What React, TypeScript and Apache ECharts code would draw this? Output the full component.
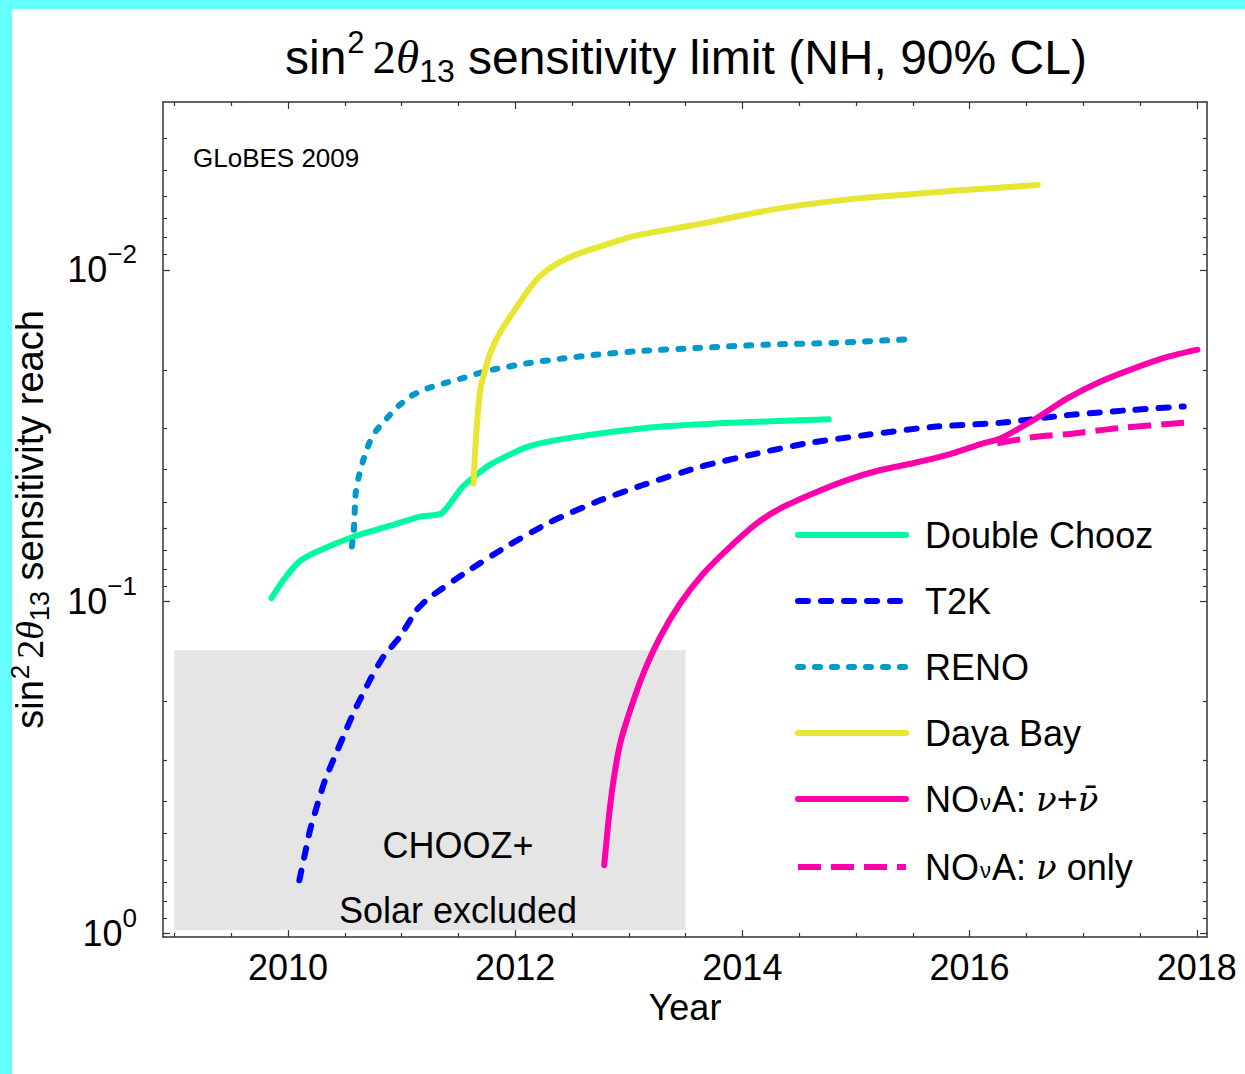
import React, { useEffect, useRef } from 'react';
import * as echarts from 'echarts';

const SANS = "'Liberation Sans', Arial, Helvetica, sans-serif";
const SERIF = "'Liberation Serif', 'Times New Roman', serif";
const MATH = "'DejaVu Serif', 'Liberation Serif', serif";

// ---- data (year, sin^2 2theta13 sensitivity) ----
const doubleChoozYears = [2009.855, 2009.96, 2010.1, 2010.253, 2010.575, 2010.87, 2011.163, 2011.355, 2011.54, 2011.776, 2012.114, 2012.451, 2013.125, 2013.8, 2014.76];
const doubleChoozValues = [0.0975, 0.086, 0.0757, 0.0707, 0.0637, 0.0594, 0.0554, 0.0541, 0.045, 0.0387, 0.0341, 0.0322, 0.03, 0.029, 0.0282];

const t2kYears = [2010.1, 2010.15, 2010.194, 2010.253, 2010.326, 2010.399, 2010.487, 2010.575, 2010.722, 2010.839, 2010.986, 2011.133, 2011.237, 2011.574, 2011.945, 2012.316, 2012.721, 2013.125, 2013.631, 2014.137, 2014.55, 2015.1, 2015.685, 2016.273, 2016.861, 2017.448, 2017.885];
const t2kValues = [0.691, 0.574, 0.488, 0.415, 0.345, 0.3, 0.255, 0.217, 0.172, 0.1466, 0.1275, 0.1059, 0.0977, 0.0812, 0.0675, 0.0574, 0.0499, 0.0445, 0.0392, 0.0357, 0.0334, 0.0314, 0.0297, 0.0289, 0.0274, 0.0264, 0.0258];

const renoYears = [2010.562, 2010.58, 2010.596, 2010.623, 2010.663, 2010.715, 2010.781, 2010.883, 2010.984, 2011.102, 2011.237, 2011.389, 2011.54, 2011.675, 2011.827, 2012.114, 2012.417, 2012.721, 2013.159, 2013.597, 2014.204, 2014.811, 2015.436];
const renoValues = [0.0682, 0.0608, 0.0471, 0.042, 0.0374, 0.0333, 0.0304, 0.0277, 0.0255, 0.0238, 0.0227, 0.0219, 0.0212, 0.0205, 0.0199, 0.0191, 0.0185, 0.018, 0.0175, 0.0172, 0.0168, 0.0166, 0.0162];

const dayaBayYears = [2011.634, 2011.648, 2011.669, 2011.692, 2011.743, 2011.793, 2011.878, 2011.996, 2012.1, 2012.2, 2012.32, 2012.5, 2012.75, 2013.05, 2013.6, 2014.3, 2015.0, 2015.8, 2016.6];
const dayaBayValues = [0.044, 0.0349, 0.0277, 0.023, 0.0196, 0.0174, 0.0152, 0.0132, 0.0117, 0.0106, 0.0098, 0.0091, 0.0085, 0.0079, 0.0073, 0.00655, 0.0061, 0.0058, 0.00555];

const novaYears = [2012.784, 2012.822, 2012.866, 2012.925, 2013.013, 2013.13, 2013.278, 2013.454, 2013.659, 2013.894, 2014.13, 2014.335, 2014.628, 2014.922, 2015.216, 2015.509, 2015.804, 2016.097, 2016.273, 2016.567, 2016.861, 2017.154, 2017.448, 2017.742, 2018.006];
const novaValues = [0.622, 0.455, 0.345, 0.267, 0.212, 0.164, 0.1275, 0.1011, 0.0821, 0.0682, 0.058, 0.0523, 0.0471, 0.043, 0.0401, 0.0382, 0.0361, 0.0335, 0.0322, 0.0283, 0.0244, 0.0217, 0.0198, 0.0183, 0.0174];

const novaNuOnlyYears = [2016.244, 2016.567, 2016.919, 2017.301, 2017.888];
const novaNuOnlyValues = [0.0333, 0.0319, 0.0311, 0.03, 0.0289];

// excluded region (CHOOZ + Solar)
const excludedYears = [2009, 2013.5];
const excludedValues = [0.977, 0.14];

// ticks
const xMajorTicks = [2010, 2012, 2014, 2016, 2018];
const xMinorTicks = [2009, 2009.5, 2010.5, 2011, 2011.5, 2012.5, 2013, 2013.5, 2014.5, 2015, 2015.5, 2016.5, 2017, 2017.5];
const yMajorTicks = [0.01, 0.1, 1];
const yMinorTicks = [0.004, 0.005, 0.006, 0.007, 0.008, 0.009, 0.02, 0.03, 0.04, 0.05, 0.06, 0.07, 0.08, 0.09, 0.2, 0.3, 0.4, 0.5, 0.6, 0.7, 0.8, 0.9];

const X_MIN = 2008.9;
const X_MAX = 2018.09;
const Y_MIN = 0.00312;
const Y_MAX = 1.024;

const zip = (xs: number[], ys: number[]) => xs.map((x, i) => [x, ys[i]]);

const NAMES = {
  dc: 'Double Chooz',
  t2k: 'T2K',
  reno: 'RENO',
  db: 'Daya Bay',
  nova: 'NOνA: ν+ν̄',
  novaNu: 'NOνA: ν only',
};

const legendRichText: Record<string, string> = {
  [NAMES.dc]: '{t|Double Chooz}',
  [NAMES.t2k]: '{t|T2K}',
  [NAMES.reno]: '{t|RENO}',
  [NAMES.db]: '{t|Daya Bay}',
  [NAMES.nova]: '{t|NO}{n|ν}{t|A: }{i|ν}{t|+}{i|ν̄}',
  [NAMES.novaNu]: '{t|NO}{n|ν}{t|A: }{i|ν}{t| only}',
};

const AXIS_COLOR = '#333';

export default function App() {
  const ref = useRef<HTMLDivElement>(null);

  useEffect(() => {
    if (!ref.current) return;
    const chart = echarts.init(ref.current, null, { renderer: 'svg' });

    const lineSeries = (name: string, xs: number[], ys: number[], color: string, type: any, cap: string) => ({
      type: 'line',
      name,
      data: zip(xs, ys),
      xAxisIndex: 0,
      yAxisIndex: 0,
      symbol: 'none',
      showSymbol: false,
      smooth: 0.2,
      silent: true,
      z: 3,
      lineStyle: { color, width: 6, type, cap, join: 'round' },
      itemStyle: { color },
    });

    const xBase = { type: 'value', min: X_MIN, max: X_MAX, gridIndex: 0, splitLine: { show: false } };
    const yBase = { type: 'log', logBase: 10, inverse: true, min: Y_MIN, max: Y_MAX, gridIndex: 0, splitLine: { show: false } };
    const lineSt = { color: AXIS_COLOR, width: 1.5 };
    const tickSt = { color: AXIS_COLOR, width: 1.2 };

    const textBase = { color: '#000', fontWeight: 'normal' };

    const option: any = {
      animation: false,
      backgroundColor: '#ffffff',
      graphic: [
        { type: 'rect', shape: { x: 0, y: 0, width: 1245, height: 9 }, style: { fill: '#66FFFF' }, silent: true },
        { type: 'rect', shape: { x: 0, y: 0, width: 12, height: 1074 }, style: { fill: '#66FFFF' }, silent: true },
      ],
      title: [
        {
          text: '{a|sin}{sup|2}{m|2}{th|θ}{sub|13}{a| sensitivity limit (NH, 90% CL)}',
          left: 285,
          top: 27,
          padding: 0,
          textStyle: {
            ...textBase,
            fontSize: 48,
            fontFamily: SANS,
            rich: {
              a: { ...textBase, fontSize: 48, fontFamily: SANS, lineHeight: 60 },
              sup: { ...textBase, fontSize: 31, fontFamily: SANS, verticalAlign: 'top', lineHeight: 34, padding: [0, 8, 0, 1] },
              m: { ...textBase, fontSize: 47, fontFamily: SERIF, lineHeight: 60 },
              th: { ...textBase, fontSize: 47, fontFamily: SERIF, fontStyle: 'italic', lineHeight: 60 },
              sub: { ...textBase, fontSize: 32, fontFamily: SANS, verticalAlign: 'bottom', lineHeight: 30 },
            },
          },
        },
        {
          text: 'GLoBES 2009',
          left: 193,
          top: 145,
          padding: 0,
          textStyle: { ...textBase, fontSize: 26, fontFamily: SANS },
        },
      ],
      grid: {
        left: 163,
        top: 102,
        width: 1044,
        height: 835,
        containLabel: false,
        outerBoundsMode: 'none',
        show: false,
      },
      legend: {
        orient: 'vertical',
        left: 795,
        top: 517,
        padding: 0,
        itemWidth: 108,
        itemHeight: 20,
        itemGap: 30,
        selectedMode: false,
        data: [NAMES.dc, NAMES.t2k, NAMES.reno, NAMES.db, NAMES.nova, NAMES.novaNu],
        formatter: (name: string) => legendRichText[name] || name,
        lineStyle: { width: 'inherit' },
        itemStyle: { color: 'rgba(0,0,0,0)', borderWidth: 0, opacity: 0 },
        textStyle: {
          ...textBase,
          fontSize: 36,
          fontFamily: SANS,
          padding: [0, 0, 0, 14],
          rich: {
            t: { ...textBase, fontSize: 36, fontFamily: SANS, lineHeight: 40 },
            n: { ...textBase, fontSize: 22, fontFamily: SANS, lineHeight: 40, verticalAlign: 'bottom', padding: [0, 1, 6, 1] },
            i: { ...textBase, fontSize: 34, fontFamily: MATH, fontStyle: 'italic', lineHeight: 40 },
          },
        },
      },
      xAxis: [
        {
          ...xBase,
          position: 'bottom',
          axisLine: { show: true, onZero: false, lineStyle: lineSt },
          axisTick: { show: true, inside: true, length: 7, customValues: xMajorTicks, lineStyle: tickSt },
          axisLabel: {
            show: true,
            customValues: xMajorTicks,
            formatter: (v: number) => String(v),
            ...textBase,
            fontSize: 36,
            fontFamily: SANS,
            margin: 12,
          },
          name: 'Year',
          nameLocation: 'middle',
          nameGap: 52,
          nameTextStyle: { ...textBase, fontSize: 36, fontFamily: SANS },
        },
        {
          ...xBase,
          position: 'bottom',
          axisLine: { show: false, onZero: false },
          axisTick: { show: true, inside: true, length: 4, customValues: xMinorTicks, lineStyle: tickSt },
          axisLabel: { show: false },
        },
        {
          ...xBase,
          position: 'top',
          axisLine: { show: true, onZero: false, lineStyle: lineSt },
          axisTick: { show: true, inside: true, length: 7, customValues: xMajorTicks, lineStyle: tickSt },
          axisLabel: { show: false },
        },
        {
          ...xBase,
          position: 'top',
          axisLine: { show: false, onZero: false },
          axisTick: { show: true, inside: true, length: 4, customValues: xMinorTicks, lineStyle: tickSt },
          axisLabel: { show: false },
        },
      ],
      yAxis: [
        {
          ...yBase,
          position: 'left',
          axisLine: { show: true, onZero: false, lineStyle: lineSt },
          axisTick: { show: true, inside: true, length: 7, customValues: yMajorTicks, lineStyle: tickSt },
          axisLabel: {
            show: true,
            customValues: yMajorTicks,
            margin: 26,
            formatter: (v: number) => {
              const e = Math.round(Math.log10(v));
              const s = e < 0 ? '\u2212' + -e : String(e);
              return `{b|10}{s|${s}}`;
            },
            rich: {
              b: { ...textBase, fontSize: 36, fontFamily: SANS, lineHeight: 58 },
              s: { ...textBase, fontSize: 26, fontFamily: SANS, lineHeight: 26, verticalAlign: 'top' },
            },
          },
          name: '{a|sin}{sup|2}{m|2}{th|θ}{sub|13}{a| sensitivity reach}',
          nameLocation: 'middle',
          nameRotate: 90,
          nameGap: 110,
          nameTextStyle: {
            ...textBase,
            fontSize: 38,
            fontFamily: SANS,
            rich: {
              a: { ...textBase, fontSize: 38, fontFamily: SANS, lineHeight: 46 },
              sup: { ...textBase, fontSize: 26, fontFamily: SANS, verticalAlign: 'top', lineHeight: 28, padding: [0, 6, 0, 1] },
              m: { ...textBase, fontSize: 38, fontFamily: SERIF, lineHeight: 46 },
              th: { ...textBase, fontSize: 38, fontFamily: SERIF, fontStyle: 'italic', lineHeight: 46 },
              sub: { ...textBase, fontSize: 27, fontFamily: SANS, verticalAlign: 'bottom', lineHeight: 26 },
            },
          },
        },
        {
          ...yBase,
          position: 'left',
          axisLine: { show: false, onZero: false },
          axisTick: { show: true, inside: true, length: 4, customValues: yMinorTicks, lineStyle: tickSt },
          axisLabel: { show: false },
        },
        {
          ...yBase,
          position: 'right',
          axisLine: { show: true, onZero: false, lineStyle: lineSt },
          axisTick: { show: true, inside: true, length: 7, customValues: yMajorTicks, lineStyle: tickSt },
          axisLabel: { show: false },
        },
        {
          ...yBase,
          position: 'right',
          axisLine: { show: false, onZero: false },
          axisTick: { show: true, inside: true, length: 4, customValues: yMinorTicks, lineStyle: tickSt },
          axisLabel: { show: false },
        },
      ],
      series: [
        {
          type: 'line',
          name: 'CHOOZ+ Solar excluded',
          data: [],
          xAxisIndex: 0,
          yAxisIndex: 0,
          symbol: 'none',
          silent: true,
          z: 1,
          markArea: {
            silent: true,
            itemStyle: { color: '#E5E5E5' },
            label: {
              show: true,
              position: 'inside',
              offset: [28, 88],
              formatter: 'CHOOZ+\nSolar excluded',
              ...textBase,
              fontSize: 36,
              fontFamily: SANS,
              lineHeight: 65,
              align: 'center',
            },
            data: [[
              { xAxis: excludedYears[0], yAxis: excludedValues[0] },
              { xAxis: excludedYears[1], yAxis: excludedValues[1] },
            ]],
          },
        },
        lineSeries(NAMES.dc, doubleChoozYears, doubleChoozValues, '#00FA9F', 'solid', 'round'),
        lineSeries(NAMES.t2k, t2kYears, t2kValues, '#0000FF', [10, 13], 'round'),
        lineSeries(NAMES.reno, renoYears, renoValues, '#0099CC', [5, 12], 'round'),
        lineSeries(NAMES.db, dayaBayYears, dayaBayValues, '#E6E633', 'solid', 'round'),
        lineSeries(NAMES.nova, novaYears, novaValues, '#FF00AA', 'solid', 'round'),
        lineSeries(NAMES.novaNu, novaNuOnlyYears, novaNuOnlyValues, '#FF00AA', [23, 10], 'butt'),
      ],
    };

    chart.setOption(option);
    return () => chart.dispose();
  }, []);

  return (
    <div
      ref={ref}
      style={{ position: 'fixed', left: 0, top: 0, width: 1245, height: 1074, background: '#fff' }}
    />
  );
}
